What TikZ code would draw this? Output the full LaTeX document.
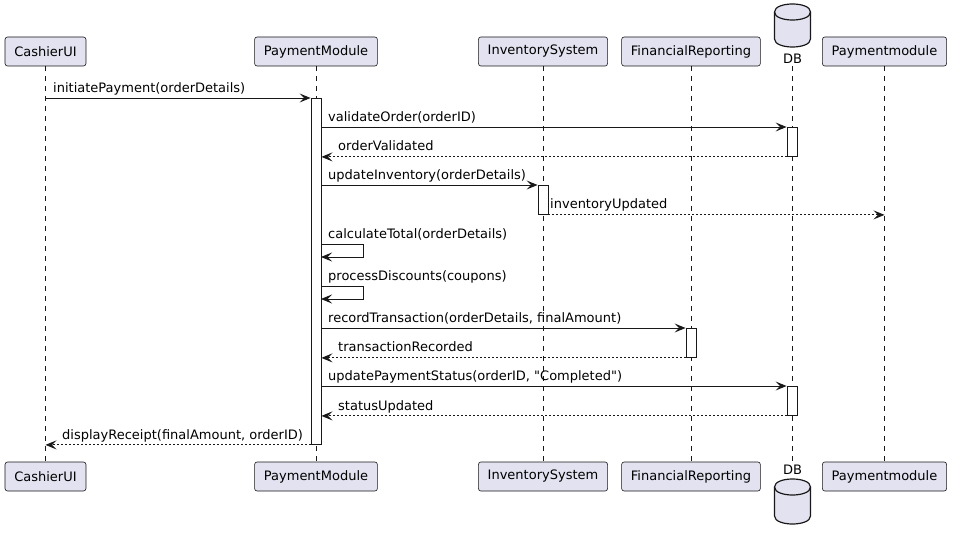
\documentclass[tikz,border=0pt]{standalone}
\usepackage{fontspec}
\setmainfont{DejaVu Sans}[Ligatures=TeXOff]
\usetikzlibrary{arrows.meta}
\definecolor{pfill}{HTML}{E2E2F0}
\definecolor{pline}{HTML}{181818}
\begin{document}
\begin{tikzpicture}[x=1pt,y=-1pt,
  part/.style={draw=pline,fill=pfill,rounded corners=2.5pt,minimum height=29pt,inner xsep=9.3pt,inner ysep=0pt,font=\fontsize{13}{15}\selectfont,line width=0.6pt},
  life/.style={draw=pline,line width=0.5pt,dash pattern=on 5pt off 5pt},
  act/.style={draw=pline,fill=white,line width=0.9pt,minimum width=10pt,inner sep=0pt,anchor=north},
  msg/.style={draw=pline,line width=0.9pt,-{Stealth[length=11pt,width=9pt,inset=4.5pt]}},
  ret/.style={msg,dash pattern=on 2pt off 2pt},
  lbl/.style={font=\fontsize{13}{15}\selectfont,inner sep=0pt,anchor=base west,text=black},
  dbshape/.style={draw=pline,fill=pfill,line width=1.2pt},
  dblbl/.style={font=\fontsize{13}{15}\selectfont,inner sep=0pt,text=black},
]
\useasboundingbox (0,0) rectangle (954,540);
\fill[white] (0,0) rectangle (954,540);

% participants (top)
\node[part] (c1) at (45.5,51.5) {CashierUI};
\node[part] (p1) at (316,51.5) {PaymentModule};
\node[part] (i1) at (543,51.5) {InventorySystem};
\node[part] (f1) at (691,51.5) {FinancialReporting};
\node[part] (m1) at (884.5,51.5) {Paymentmodule};
% participants (bottom)
\node[part] (c2) at (45.5,476.5) {CashierUI};
\node[part] (p2) at (316,476.5) {PaymentModule};
\node[part] (i2) at (543,476.5) {InventorySystem};
\node[part] (f2) at (691,476.5) {FinancialReporting};
\node[part] (m2) at (884.5,476.5) {Paymentmodule};

% DB top
\draw[dbshape] (774.5,12) -- (774.5,39) .. controls (774.5,49.67) and (810.5,49.67) .. (810.5,39) -- (810.5,12) .. controls (810.5,1.33) and (774.5,1.33) .. (774.5,12) -- cycle;
\draw[dbshape,fill=none] (774.5,12) .. controls (774.5,22.67) and (810.5,22.67) .. (810.5,12);
\node[dblbl] (d1) at (792.5,59) {DB};
% DB bottom
\draw[dbshape] (774.5,487) -- (774.5,516) .. controls (774.5,526.67) and (810.5,526.67) .. (810.5,516) -- (810.5,487) .. controls (810.5,476.33) and (774.5,476.33) .. (774.5,487) -- cycle;
\draw[dbshape,fill=none] (774.5,487) .. controls (774.5,497.67) and (810.5,497.67) .. (810.5,487);
\node[dblbl] (d2) at (792.5,470) {DB};

% lifelines
\draw[life] (45,66) -- (45,461);
\draw[life] (316,66) -- (316,461);
\draw[life] (543,66) -- (543,461);
\draw[life] (691,66) -- (691,461);
\draw[life] (792,66) -- (792,462);
\draw[life] (884,66) -- (884,461);

% activations
\node[act,minimum height=346pt] (ap) at (316,98) {};
\node[act,minimum height=29pt] (ad1) at (792,127) {};
\node[act,minimum height=29pt] (ai) at (543,185) {};
\node[act,minimum height=29pt] (af) at (691,328) {};
\node[act,minimum height=29pt] (ad2) at (792,386) {};

% messages
\draw[msg] (c1.south |- ap.north) -- (ap.north west);
\node[lbl] (l1) at (53,93) {initiatePayment(orderDetails)};

\draw[msg] (ap.east |- ad1.north) -- (ad1.north west);
\node[lbl] (l2) at (328,122) {validateOrder(orderID)};

\draw[ret] (ad1.south west) -- (ap.east |- ad1.south);
\node[lbl] (l3) at (338,151) {orderValidated};

\draw[msg] (ap.east |- ai.north) -- (ai.north west);
\node[lbl] (l4) at (328,180) {updateInventory(orderDetails)};

\draw[ret] (ai.south east) -- (m1.south |- ai.south);
\node[lbl] (l5) at (550,209) {inventoryUpdated};

\coordinate (s1a) at (321,244);
\coordinate (s1b) at (363,244);
\coordinate (s1c) at (363,257);
\coordinate (s1d) at (321,257);
\draw[msg] (s1a) -- (s1b) -- (s1c) -- (s1d);
\node[lbl] (l6) at (328,239) {calculateTotal(orderDetails)};

\coordinate (s2a) at (321,286);
\coordinate (s2b) at (363,286);
\coordinate (s2c) at (363,299);
\coordinate (s2d) at (321,299);
\draw[msg] (s2a) -- (s2b) -- (s2c) -- (s2d);
\node[lbl] (l7) at (328,281) {processDiscounts(coupons)};

\draw[msg] (ap.east |- af.north) -- (af.north west);
\node[lbl] (l8) at (328,323) {recordTransaction(orderDetails, finalAmount)};

\draw[ret] (af.south west) -- (ap.east |- af.south);
\node[lbl] (l9) at (338,352) {transactionRecorded};

\draw[msg] (ap.east |- ad2.north) -- (ad2.north west);
\node[lbl] (l10) at (328,381) {updatePaymentStatus(orderID, "Completed")};

\draw[ret] (ad2.south west) -- (ap.east |- ad2.south);
\node[lbl] (l11) at (338,410) {statusUpdated};

\draw[ret] (ap.south west) -- (c1.south |- ap.south);
\node[lbl] (l12) at (62,439) {displayReceipt(finalAmount, orderID)};
\end{tikzpicture}
\end{document}
